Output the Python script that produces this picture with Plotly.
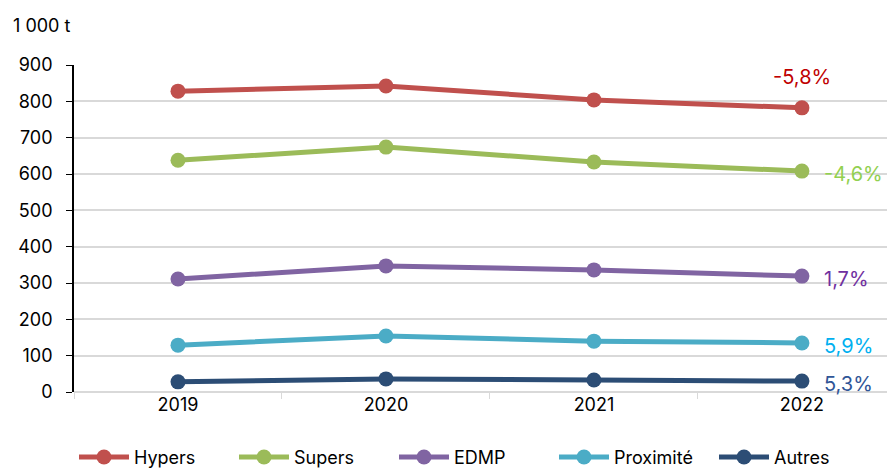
import plotly.graph_objects as go

years = ["2019", "2020", "2021", "2022"]
series_names = ["Hypers", "Supers", "EDMP", "Proximité", "Autres"]
hypers = [828, 842, 804, 782]
supers = [638, 674, 633, 608]
edmp = [311, 347, 336, 319]
proximite = [129, 154, 140, 135]
autres = [28, 36, 33, 30]
evolutions = ["-5,8%", "-4,6%", "1,7%", "5,9%", "5,3%"]

line_colors = ["#C0504D", "#9BBB59", "#8064A2", "#4BACC6", "#2C4D75"]
label_colors = ["#C00000", "#92D050", "#7030A0", "#00B0F0", "#2F5597"]

values = [hypers, supers, edmp, proximite, autres]
FONT = "Inter, Open Sans, sans-serif"

fig = go.Figure()
for name, vals, col in zip(series_names, values, line_colors):
    fig.add_trace(go.Scatter(
        x=years, y=vals, name=name, mode="lines+markers",
        line=dict(color=col, width=5),
        marker=dict(color=col, size=15),
    ))

last = len(years) - 1
for i, (vals, lab, col) in enumerate(zip(values, evolutions, label_colors)):
    if i == 0:
        fig.add_annotation(x=last, y=vals[-1], text=lab, showarrow=False,
                           xanchor="center", yanchor="bottom", yshift=17,
                           font=dict(color=col, size=20, family=FONT))
    else:
        fig.add_annotation(x=last, y=vals[-1], text=lab, showarrow=False,
                           xanchor="left", yanchor="middle", xshift=20, yshift=-3,
                           font=dict(color=col, size=20, family=FONT))

fig.add_annotation(xref="paper", yref="paper", x=-0.076, y=1.122, text="1 000 t",
                   showarrow=False, xanchor="left", yanchor="middle",
                   font=dict(size=18, color="#000", family=FONT))

fig.update_layout(
    width=895, height=468,
    margin=dict(l=66, r=0, t=57, b=84),
    plot_bgcolor="white", paper_bgcolor="white",
    font=dict(family=FONT, size=18, color="#000"),
    showlegend=True,
    legend=dict(orientation="h", x=0.0, xanchor="left", yref="container",
                y=0.04, yanchor="middle", entrywidth=95,
                font=dict(size=18, family=FONT), itemwidth=50, traceorder="normal"),
    xaxis=dict(type="category", range=[-0.5, 3.486], tickson="boundaries",
               ticks="outside", ticklen=6, tickcolor="#D9D9D9", showgrid=False,
               showline=False, tickfont=dict(size=18), zeroline=False, automargin=False),
    yaxis=dict(range=[0, 900], dtick=100, showgrid=True, gridcolor="#D9D9D9", gridwidth=1.5,
               showline=True, linecolor="#000", linewidth=1.5, ticks="outside",
               ticklen=6, tickcolor="#000", zeroline=True, zerolinecolor="#D9D9D9",
               zerolinewidth=1.5, tickfont=dict(size=18), ticksuffix="  ", automargin=False),
)

fig.write_html("out.html")
